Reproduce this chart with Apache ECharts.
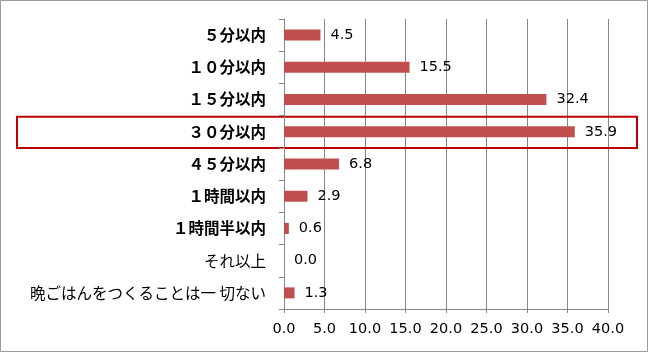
<!DOCTYPE html>
<html><head><meta charset="utf-8">
<script src="https://cdn.jsdelivr.net/npm/echarts@6/dist/echarts.min.js"></script>
<style>html,body{margin:0;padding:0;background:#fff}#c{width:649px;height:353px}</style>
</head><body><div id="c"></div>
<script>
const categories = ['５分以内','１０分以内','１５分以内','３０分以内','４５分以内','１時間以内','１時間半以内','それ以上','晩ごはんをつくることは一 切ない'];
const values = [4.5, 15.5, 32.4, 35.9, 6.8, 2.9, 0.6, 0.0, 1.3];
const boldCats = ['５分以内','１０分以内','１５分以内','３０分以内','４５分以内','１時間以内','１時間半以内'];
const highlighted = '３０分以内';
const xMin = 0, xMax = 40, xStep = 5;

const chart = echarts.init(document.getElementById('c'), null, {renderer:'canvas'});
chart.setOption({
  animation:false,
  grid:{left:284, right:41, top:19, bottom:44, containLabel:false},
  xAxis:{type:'value', min:xMin, max:xMax, interval:xStep,
    axisLine:{show:true, lineStyle:{color:'#868686'}},
    axisTick:{show:true, length:4, lineStyle:{color:'#868686'}},
    splitLine:{show:true, lineStyle:{color:'#868686', width:1}},
    axisLabel:{formatter:v=>v.toFixed(1), color:'#000', fontFamily:'DejaVu Sans', fontSize:14.5, margin:13}
  },
  yAxis:{type:'category', data:categories, inverse:true,
    axisLine:{show:true, lineStyle:{color:'#868686'}},
    axisTick:{show:true, length:5, lineStyle:{color:'#868686'}},
    axisLabel:{color:'#000', fontFamily:'Noto Sans CJK JP', fontSize:15.5, margin:18,
      formatter:v=> boldCats.includes(v) ? '{b|'+v+'}' : '{n|'+v+'}',
      rich:{b:{fontWeight:'bold', fontFamily:'Noto Sans CJK JP', fontSize:15.5, color:'#000'},
            n:{fontWeight:'normal', fontFamily:'Noto Sans CJK JP', fontSize:15.5, color:'#000'}}}
  },
  series:[{type:'bar', data:values, barWidth:11,
    itemStyle:{color:'#C0504D'},
    label:{show:true, position:'right', distance:10, formatter:p=>p.value.toFixed(1),
      color:'#000', fontFamily:'DejaVu Sans', fontSize:14.5}
  }]
});
const cy = chart.convertToPixel({yAxisIndex:0}, highlighted);
const band = (353-19-44)/categories.length;
chart.setOption({graphic:[
  {type:'rect', shape:{x:0.5, y:0.5, width:647, height:351}, style:{fill:null, stroke:'#9a9a9a', lineWidth:1}, silent:true},
  {type:'rect', shape:{x:17, y:cy-band/2+1, width:620, height:band-1}, style:{fill:null, stroke:'#C00000', lineWidth:2}, silent:true}
]});
</script></body></html>
